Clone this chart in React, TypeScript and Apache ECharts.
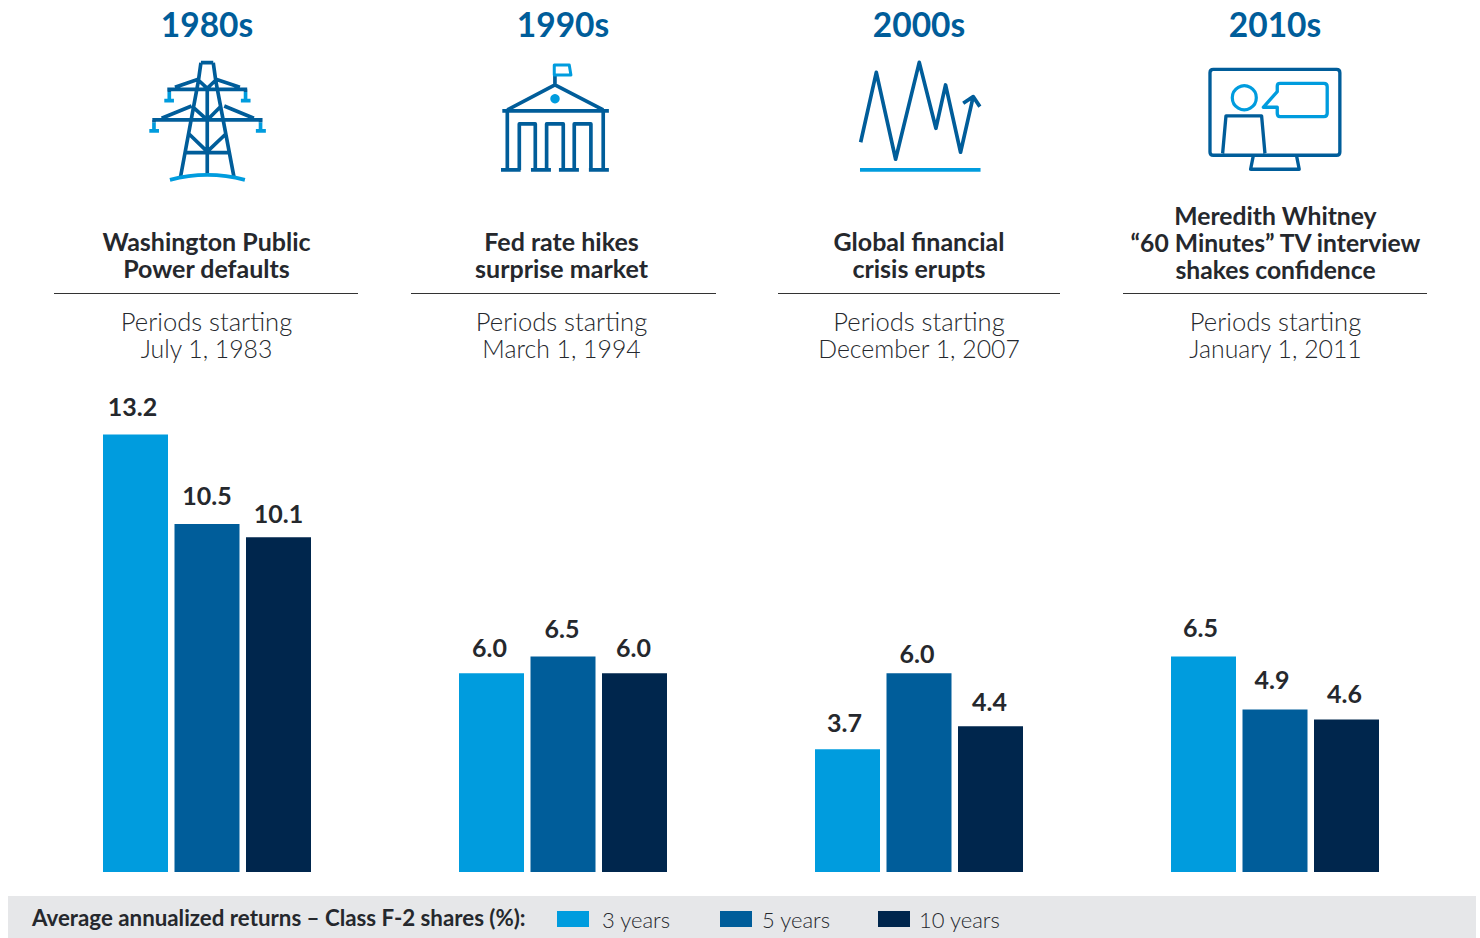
import React, { useEffect, useRef } from "react";
import * as echarts from "echarts";

const decades = ["1980s", "1990s", "2000s", "2010s"];
const threeYears = [13.2, 6.0, 3.7, 6.5];
const fiveYears = [10.5, 6.5, 6.0, 4.9];
const tenYears = [10.1, 6.0, 4.4, 4.6];
const headlines = [
  ["Washington Public", "Power defaults"],
  ["Fed rate hikes", "surprise market"],
  ["Global financial", "crisis erupts"],
  ["Meredith Whitney", "“60 Minutes” TV interview", "shakes confidence"],
];
const periods = [
  ["Periods starting", "July 1, 1983"],
  ["Periods starting", "March 1, 1994"],
  ["Periods starting", "December 1, 2007"],
  ["Periods starting", "January 1, 2011"],
];

const LIGHT = "#009cde";
const MID = "#005d9a";
const DARK = "#00264d";
const FONT = "Lato";
const INK = "#25282d";

const headCenters = [206.5, 561.5, 919, 1275.5];
const rules = [[54, 358], [411, 716], [778, 1060], [1123, 1427]];
const labelShift = [
  [[-3, 0], [0, -1], [0, 4]],
  [[-2, 2], [-1, 0], [-1, 2]],
  [[-3, 1], [-2, 8], [-1, 3]],
  [[-3, -1], [-3, -2], [-2, 2]],
];

const shapes: Record<string, string> = {
  towerDark:
    "M213 38 L250 38 M213 38 L205 95 L152 380 M250 38 L258 95 L312 380 M232 110 L232 370 M112 118 L352 118 M135 112 L205 88 M258 88 L330 112 M205 90 L232 115 L258 90 M67 210 L398 210 M95 205 L185 168 M283 168 L372 205 M190 172 L232 210 L270 172 M175 250 L232 305 L290 250 M163 308 L302 308 M118 118 L118 126 M347 118 L347 126 M72 210 L72 218 M392 210 L392 218",
  towerLight:
    "M118 126 L118 152 M103 152 L132 152 M347 126 L347 152 M333 152 L362 152 M72 218 L72 243 M58 243 L87 243 M392 218 L392 243 M378 243 L408 243 M120 390 Q232 360 345 390",
  bankDark:
    "M195 90 L195 58 M52 165 L195 90 L340 165 M37 168 L357 168 M52 168 L52 345 M340 168 L340 345 M33 345 L92 345 M123 345 L183 345 M207 345 L267 345 M297 345 L357 345 M88 345 L88 207 L136 207 L136 345 M170 345 L170 207 L220 207 L220 345 M253 345 L253 207 L303 207 L303 345",
  bankLight: "M193 30 L238 30 L243 60 L193 60 Z",
  waveDark:
    "M32 262 L79 52 L137 313 L208 22 L258 220 L287 90 L332 292 L370 125 M340 145 L370 125 L390 155",
  waveLight: "M30 345 L392 345",
  screenDark:
    "M40 28 L410 28 Q420 28 420 38 L420 276 Q420 286 410 286 L40 286 Q30 286 30 276 L30 38 Q30 28 40 28 Z M160 288 L152 328 L298 328 L290 288 M68 280 L78 168 L185 168 L195 280",
  screenLight:
    "M232 95 L232 78 Q232 70 240 70 L372 70 Q382 70 382 80 L382 160 Q382 170 372 170 L240 170 Q232 170 232 160 L232 142 L190 142 Z",
};
Object.entries(shapes).forEach(([name, d]) => {
  echarts.graphic.registerShape(name, echarts.graphic.extendPath(d as any, {}) as any);
});

function icon(name: string, x: number, y: number, stroke: string, w = 9) {
  return {
    type: name,
    x,
    y,
    scaleX: 1 / 3,
    scaleY: 1 / 3,
    style: { fill: "none", stroke, lineWidth: w, lineJoin: "round" },
  };
}

function textEl(text: string, x: number, y: number, size: number, weight: any, align = "center") {
  return {
    type: "text",
    x,
    y,
    style: {
      text,
      x: 0,
      y: 0,
      fontFamily: FONT,
      fontSize: size,
      fontWeight: weight,
      fill: INK,
      align,
      verticalAlign: "middle",
    },
  };
}

function barSeries(name: string, values: number[], color: string, idx: number) {
  return {
    name,
    type: "bar",
    barWidth: 65,
    barGap: "10%",
    itemStyle: { color },
    data: values.map((v, g) => ({
      value: v,
      label: { offset: labelShift[g][idx] },
    })),
    label: {
      show: true,
      position: "top",
      distance: 16,
      fontFamily: FONT,
      fontSize: 25,
      fontWeight: 700,
      color: INK,
      formatter: (p: any) => Number(p.value).toFixed(1),
    },
  };
}

function legendFor(name: string, left: number, gap: number) {
  return {
    data: [name],
    left,
    top: 908,
    padding: 0,
    itemWidth: 32,
    itemHeight: 16,
    icon: "rect",
    selectedMode: false,
    textStyle: {
      fontFamily: FONT,
      fontSize: 22,
      fontWeight: 300,
      color: INK,
      lineHeight: 16,
      padding: [-3, 0, 0, gap],
    },
  };
}

export default function App() {
  const ref = useRef<HTMLDivElement>(null);
  useEffect(() => {
    document.body.style.margin = "0";
    const chart = echarts.init(ref.current!, null, { renderer: "svg" });
    const graphics: any[] = [
      { type: "rect", shape: { x: 8, y: 896, width: 1468, height: 42 }, style: { fill: "#e6e7e9" } },
      textEl("Average annualized returns – Class F-2 shares (%):", 32, 917, 22.3, 700, "left"),
      icon("towerDark", 130, 50, MID, 11),
      icon("towerLight", 130, 50, LIGHT, 11),
      icon("bankDark", 490, 55, MID, 11),
      icon("bankLight", 490, 55, LIGHT, 9),
      { type: "circle", shape: { cx: 555, cy: 98.7, r: 4.7 }, style: { fill: LIGHT } },
      icon("waveDark", 850, 55, MID, 11),
      icon("waveLight", 850, 55, LIGHT, 11),
      icon("screenDark", 1200, 60, MID, 10),
      icon("screenLight", 1200, 60, LIGHT, 10),
      { type: "circle", shape: { cx: 1244.3, cy: 97.7, r: 12 }, style: { fill: "none", stroke: LIGHT, lineWidth: 3.2 } },
    ];
    headlines.forEach((lines, i) => {
      lines.forEach((line, j) => {
        const y = 269 - (lines.length - 1 - j) * 27 - (lines.length === 3 ? 0 : 1);
        graphics.push(textEl(line, headCenters[i], y, lines.length === 3 ? 24.7 : 25, 700));
      });
    });
    periods.forEach((lines, i) => {
      lines.forEach((line, j) => {
        graphics.push(textEl(line, headCenters[i], 321 + j * 27, j === 0 ? 25.6 : 24.8, 300));
      });
    });
    rules.forEach(([a, b]) => {
      graphics.push({
        type: "line",
        shape: { x1: a, y1: 293.5, x2: b, y2: 293.5 },
        style: { stroke: "#333", lineWidth: 1 },
      });
    });
    chart.setOption({
      animation: false,
      grid: { left: 29, width: 1424, top: 408, height: 464 },
      xAxis: {
        type: "category",
        position: "top",
        offset: 367,
        data: decades,
        axisLine: { show: false },
        axisTick: { show: false },
        axisLabel: {
          margin: 0,
          interval: 0,
          fontFamily: FONT,
          fontSize: 33.5,
          fontWeight: 700,
          color: MID,
        },
      },
      yAxis: { type: "value", min: 0, max: 14, show: false },
      legend: [legendFor("3 years", 557, 8), legendFor("5 years", 720, 5), legendFor("10 years", 878, 4)],
      graphic: { elements: graphics },
      series: [
        barSeries("3 years", threeYears, LIGHT, 0),
        barSeries("5 years", fiveYears, MID, 1),
        barSeries("10 years", tenYears, DARK, 2),
      ],
    });
    return () => chart.dispose();
  }, []);
  return (
    <div
      ref={ref}
      style={{ position: "absolute", left: 0, top: 0, width: 1480, height: 938, background: "#fff" }}
    />
  );
}
